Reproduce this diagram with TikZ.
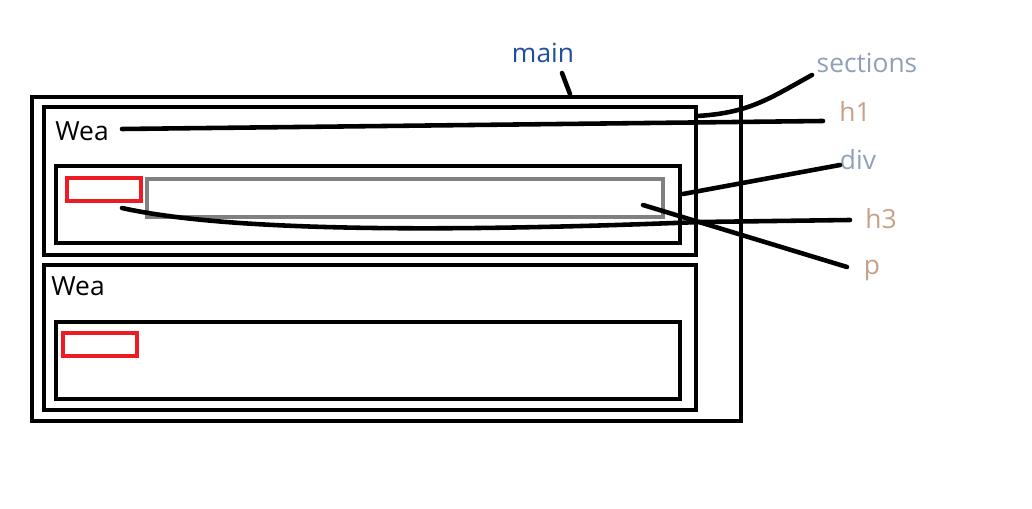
\documentclass[tikz,border=0pt]{standalone}
\usepackage{fontspec}
\setmainfont{Open Sans}
\definecolor{mainblue}{HTML}{1F4E9E}
\definecolor{grayblue}{HTML}{8FA0B8}
\definecolor{tan}{HTML}{C8A088}
\definecolor{boxred}{HTML}{ED1C24}
\definecolor{boxgray}{HTML}{808080}
\begin{document}
\begin{tikzpicture}[x=0.02cm,y=-0.02cm,
  box/.style={draw=black,line width=2.8pt},
  redbox/.style={draw=boxred,line width=2.3pt},
  graybox/.style={draw=boxgray,line width=2.3pt},
  lab/.style={inner sep=0pt,font=\fontsize{15}{18}\selectfont\addfontfeatures{}},
  conn/.style={line width=2.6pt,line cap=round}]
\useasboundingbox (0,0) rectangle (1032,509);
% boxes
\draw[box] (32,97) rectangle (741,421);
\draw[box] (44,107) rectangle (696,255);
\draw[box] (56,166) rectangle (680,243);
\draw[redbox] (67,178) rectangle (141,201);
\draw[graybox] (147,179) rectangle (663,217);
\draw[box] (44,265) rectangle (696,410);
\draw[box] (56,322) rectangle (680,399);
\draw[redbox] (63,333) rectangle (137,356);
% texts
\node[lab,anchor=base west] (wea1) at (55,141) {Wea};
\node[lab,anchor=base west] (wea2) at (51,296) {Wea};
\node[lab,text=mainblue] (main) at (543,53) {main};
\node[lab,text=grayblue] (sections) at (867,63) {sections};
\node[lab,text=tan] (h1) at (855,111) {h1};
\node[lab,text=grayblue] (div) at (858,160) {div};
\node[lab,text=tan] (h3) at (881,219) {h3};
\node[lab,text=tan] (p) at (872,270) {p};
% connector ends
\coordinate (mainA) at (562,73);
\coordinate (mainB) at (570,94);
\coordinate (secA) at (812,75);
\coordinate (secB) at (697,116);
\coordinate (h1A) at (823,121);
\coordinate (h1B) at (122,129);
\coordinate (divA) at (840,165);
\coordinate (divB) at (683,194);
\coordinate (h3A) at (850,220);
\coordinate (h3B) at (122,208);
\coordinate (pA) at (847,267);
\coordinate (pB) at (643,205);
% connectors
\draw[conn] (mainA) -- (mainB);
\draw[conn] (secA) .. controls (770,98) and (750,113) .. (secB);
\draw[conn] (h1A) -- (h1B);
\draw[conn] (divA) -- (divB);
\draw[conn] (h3A) -- (700,222) .. controls (450,232) and (230,232) .. (h3B);
\draw[conn] (pA) -- (pB);
\end{tikzpicture}
\end{document}
